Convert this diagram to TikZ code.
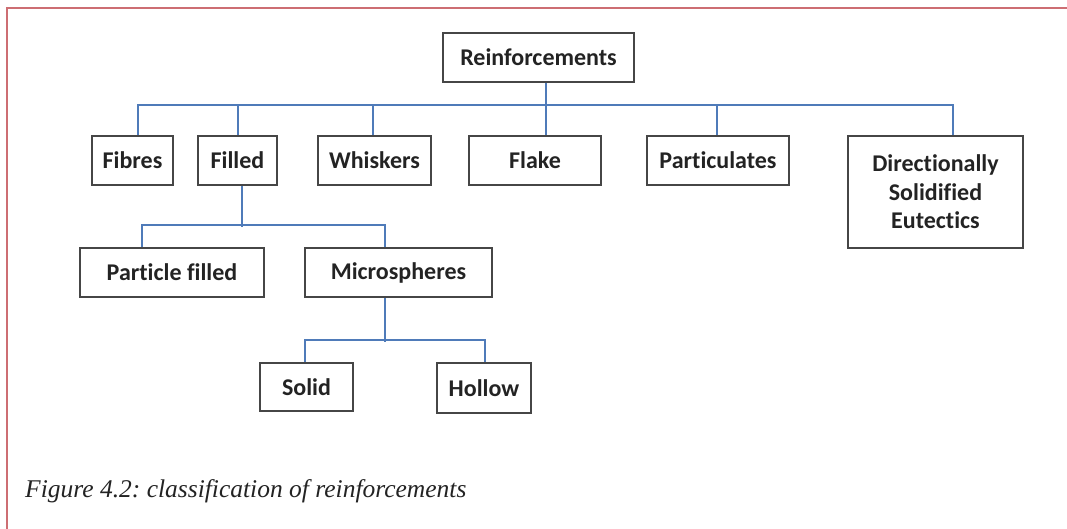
\documentclass[tikz,border=0pt]{standalone}
\usepackage{fontspec}
\setmainfont{Liberation Serif}
\newfontfamily\boxfont[Ligatures=NoCommon]{Carlito}
\definecolor{framered}{RGB}{205,110,115}
\definecolor{connblue}{RGB}{79,123,185}
\definecolor{boxgray}{RGB}{70,70,70}
\definecolor{txtdark}{RGB}{35,35,35}
\frenchspacing
\begin{document}
\begin{tikzpicture}[x=1pt,y=-1pt,
  box/.style={draw=boxgray, line width=1.6pt, inner sep=0pt, align=center,
    font=\boxfont\bfseries\fontsize{24}{28.5}\selectfont, text=txtdark},
  conn/.style={draw=connblue, line width=1.8pt},
  framestyle/.style={draw=framered, line width=1.3pt}]
\useasboundingbox[fill=white] (0,0) rectangle (1067,529);
\draw[framestyle] (1067,8) -- (7,8) -- (7,529);

\node[box, minimum width=191pt, minimum height=49pt] (reinf) at (538.5,57.5) {Reinforcements};
\node[box, minimum width=81pt, minimum height=49pt] (fibres) at (132.5,160.5) {Fibres};
\node[box, minimum width=79pt, minimum height=49pt] (filled) at (237.5,160.5) {Filled};
\node[box, minimum width=113pt, minimum height=49pt] (whiskers) at (374.5,160.5) {Whiskers};
\node[box, minimum width=132pt, minimum height=49pt] (flake) at (535,160.5) {Flake};
\node[box, minimum width=142pt, minimum height=49pt] (partic) at (718,160.5) {Particulates};
\node[box, minimum width=175pt, minimum height=112pt] (dse) at (935.5,192) {Directionally\\Solidified\\Eutectics};
\node[box, minimum width=184pt, minimum height=49pt] (pfilled) at (172,272.5) {Particle filled};
\node[box, minimum width=187pt, minimum height=49pt] (micro) at (398.5,272.5) {Microspheres};
\node[box, minimum width=93pt, minimum height=48pt] (solid) at (306.5,387) {Solid};
\node[box, minimum width=94pt, minimum height=50pt] (hollow) at (484,388) {Hollow};

% level 1
\draw[conn] ([xshift=7.5pt]reinf.south) -- ([xshift=11pt]flake.north);
\draw[conn] ([xshift=5.5pt]fibres.north) -- ++(0,-30) -| ([xshift=17.5pt]dse.north);
\draw[conn] ([xshift=0.5pt]filled.north) -- ++(0,-30);
\draw[conn] ([xshift=-1.5pt]whiskers.north) -- ++(0,-30);
\draw[conn] ([xshift=-1pt]partic.north) -- ++(0,-30);
% level 2
\draw[conn] ([xshift=4.5pt]filled.south) -- ++(0,41);
\draw[conn] ([xshift=-30pt]pfilled.north) -- ++(0,-22) -| ([xshift=-13.5pt]micro.north);
% level 3
\draw[conn] ([xshift=-13.5pt]micro.south) -- ++(0,44);
\draw[conn] ([xshift=-1.5pt]solid.north) -- ++(0,-22) -| ([xshift=1pt]hollow.north);

\node[anchor=base west, inner sep=0pt, text=txtdark,
  font=\itshape\fontsize{25.5}{30}\selectfont] (caption) at (25,497)
  {Figure 4.2: classification of reinforcements};
\end{tikzpicture}
\end{document}
